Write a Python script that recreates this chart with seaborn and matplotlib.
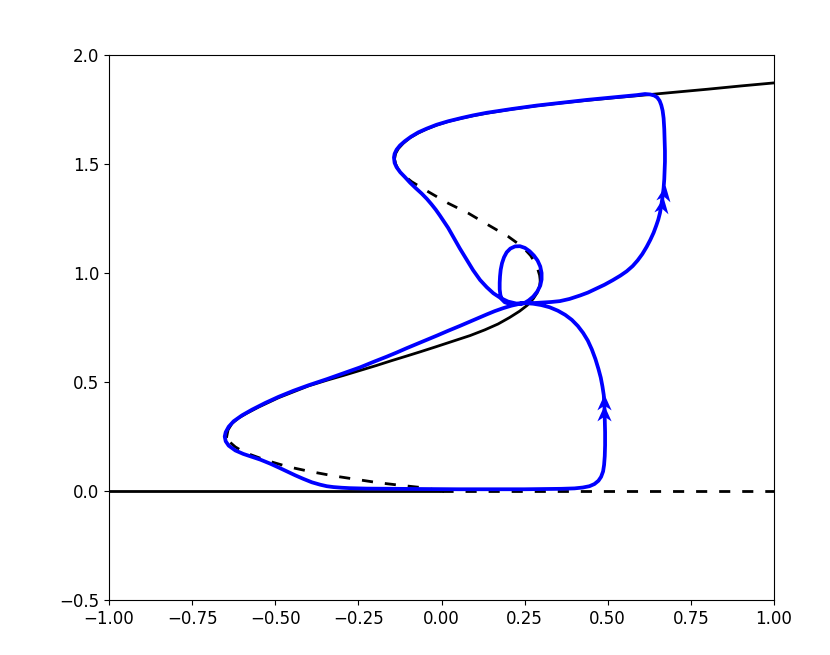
import matplotlib
matplotlib.use('Agg')
import matplotlib.pyplot as plt
import seaborn as sns
from matplotlib.markers import MarkerStyle

plt.rcParams['font.size'] = 12

# trivial branch x* = 0 (stable for r<0, unstable for r>0)
zero_r_stable = [-1.0, 0.0]
zero_x_stable = [0.0, 0.0]
zero_r_unstable = [0.0, 1.0]
zero_x_unstable = [0.0, 0.0]

# non-trivial branch
low_dash_r = [0.0, -0.055, -0.123, -0.19, -0.255, -0.323, -0.394, -0.461, -0.526, -0.591, -0.62, -0.638, -0.646]
low_dash_x = [0.0, 0.015, 0.026, 0.038, 0.053, 0.069, 0.089, 0.111, 0.14, 0.176, 0.202, 0.226, 0.25]

mid_r = [-0.646, -0.642, -0.63, -0.61, -0.585, -0.55, -0.49, -0.44, -0.4, -0.345, -0.295, -0.245,
         -0.195, -0.15, -0.105, -0.065, -0.02, 0.04, 0.086, 0.13, 0.17, 0.205, 0.235, 0.258,
         0.276, 0.288, 0.295, 0.297]
mid_x = [0.25, 0.28, 0.31, 0.335, 0.357, 0.385, 0.428, 0.458, 0.482, 0.508, 0.53, 0.553,
         0.576, 0.598, 0.619, 0.638, 0.66, 0.69, 0.713, 0.739, 0.766, 0.796, 0.825, 0.852,
         0.882, 0.91, 0.94, 0.965]

up_dash_r = [0.297, 0.295, 0.289, 0.28, 0.268, 0.25, 0.23, 0.201, 0.141, 0.081, 0.02, -0.04, -0.09,
             -0.115, -0.13, -0.138, -0.141]
up_dash_x = [0.965, 0.99, 1.02, 1.05, 1.08, 1.11, 1.135, 1.167, 1.22, 1.274, 1.32, 1.373, 1.419,
             1.45, 1.475, 1.5, 1.525]

top_r = [-0.141, -0.138, -0.13, -0.115, -0.095, -0.07, -0.045, -0.015, 0.02, 0.06, 0.1, 0.136,
         0.21, 0.286, 0.36, 0.437, 0.52, 0.587, 0.7, 0.8, 0.9, 1.0]
top_x = [1.525, 1.548, 1.57, 1.595, 1.62, 1.642, 1.66, 1.678, 1.695, 1.71, 1.723, 1.733,
         1.751, 1.767, 1.78, 1.792, 1.804, 1.813, 1.829, 1.843, 1.858, 1.872]

# trajectory: lower loop, small loop at the crossing, then the upper loop
traj_r = [0.25, 0.23, 0.21, 0.186, 0.16, 0.136, 0.11, 0.086, 0.055, 0.02, -0.012, -0.045, -0.075,
          -0.105, -0.135, -0.165, -0.205, -0.245, -0.295, -0.345, -0.4, -0.445, -0.49, -0.53,
          -0.57, -0.6, -0.625, -0.64, -0.649, -0.652, -0.649, -0.64, -0.62, -0.596, -0.57, -0.545,
          -0.516, -0.49, -0.465, -0.44, -0.416, -0.39, -0.365, -0.345, -0.325, -0.3, -0.275,
          -0.225, -0.15, -0.05, 0.05, 0.15, 0.25, 0.3, 0.36, 0.4, 0.425, 0.445, 0.46, 0.472,
          0.48, 0.486, 0.489, 0.491, 0.492, 0.492, 0.491, 0.49, 0.488, 0.484, 0.479, 0.472,
          0.463, 0.452, 0.44, 0.426, 0.41, 0.392, 0.372, 0.35, 0.325, 0.3, 0.276, 0.25,
          0.225, 0.205, 0.19, 0.181, 0.177, 0.175, 0.175, 0.176, 0.178, 0.182, 0.188, 0.196,
          0.207, 0.221, 0.236, 0.251, 0.265, 0.278, 0.289, 0.297, 0.301, 0.301, 0.297, 0.288,
          0.276, 0.262, 0.25,
          0.276, 0.3, 0.33, 0.356, 0.385, 0.417, 0.44, 0.465, 0.49, 0.515, 0.538, 0.557, 0.575,
          0.59, 0.604, 0.617, 0.628, 0.638, 0.646, 0.652, 0.657, 0.661, 0.665, 0.668, 0.67,
          0.671, 0.672, 0.672, 0.671, 0.67, 0.668, 0.665, 0.661, 0.656, 0.649, 0.64, 0.628,
          0.612, 0.587, 0.52, 0.437, 0.36, 0.286, 0.21, 0.136, 0.095, 0.06, 0.02, -0.015,
          -0.045, -0.07, -0.092, -0.11, -0.125, -0.135, -0.141, -0.143, -0.141, -0.135, -0.124,
          -0.11, -0.095, -0.078, -0.06, -0.044, -0.03, -0.017, -0.005, 0.007, 0.02, 0.035,
          0.055, 0.076, 0.095, 0.116, 0.136, 0.156, 0.178, 0.2, 0.225, 0.25]
traj_x = [0.862, 0.857, 0.85, 0.839, 0.825, 0.81, 0.793, 0.777, 0.757, 0.735, 0.714, 0.693, 0.674,
          0.655, 0.635, 0.616, 0.592, 0.567, 0.54, 0.513, 0.485, 0.46, 0.432, 0.404,
          0.373, 0.347, 0.32, 0.295, 0.27, 0.25, 0.228, 0.208, 0.186, 0.17, 0.157, 0.144,
          0.126, 0.108, 0.09, 0.072, 0.056, 0.04, 0.029, 0.022, 0.018, 0.015, 0.013,
          0.011, 0.01, 0.009, 0.008, 0.008, 0.008, 0.009, 0.01, 0.012, 0.016, 0.022, 0.032, 0.047,
          0.065, 0.09, 0.12, 0.16, 0.21, 0.27, 0.33, 0.39, 0.44, 0.48, 0.52, 0.56,
          0.605, 0.65, 0.69, 0.725, 0.757, 0.785, 0.808, 0.827, 0.843, 0.853, 0.859, 0.862,
          0.857, 0.858, 0.866, 0.88, 0.9, 0.925, 0.955, 0.985, 1.015, 1.045, 1.072, 1.095,
          1.112, 1.122, 1.123, 1.115, 1.1, 1.08, 1.057, 1.03, 1.0, 0.97, 0.942, 0.915,
          0.892, 0.874, 0.863,
          0.862, 0.864, 0.867, 0.871, 0.881, 0.897, 0.91, 0.928, 0.946, 0.967, 0.988, 1.008, 1.032,
          1.058, 1.087, 1.12, 1.152, 1.185, 1.218, 1.245, 1.275, 1.31, 1.35, 1.39, 1.43,
          1.47, 1.51, 1.56, 1.61, 1.66, 1.71, 1.745, 1.77, 1.79, 1.805, 1.814, 1.819,
          1.821, 1.816, 1.806, 1.794, 1.781, 1.768, 1.752, 1.735, 1.723, 1.711, 1.696, 1.68,
          1.662, 1.645, 1.625, 1.605, 1.585, 1.566, 1.547, 1.53, 1.505, 1.485, 1.462,
          1.44, 1.415, 1.39, 1.365, 1.34, 1.315, 1.29, 1.264, 1.237, 1.207, 1.167,
          1.113, 1.06, 1.013, 0.968, 0.935, 0.907, 0.885, 0.869, 0.86, 0.862]

# direction markers on the trajectory
arrow_up_r = [0.49, 0.49]
arrow_up_x = [0.357, 0.41]
arrow_right_r = [0.662, 0.668]
arrow_right_x = [1.312, 1.369]

xticks = [-1.0, -0.75, -0.5, -0.25, 0.0, 0.25, 0.5, 0.75, 1.0]
yticks = [-0.5, 0.0, 0.5, 1.0, 1.5, 2.0]

fig = plt.figure(figsize=(8.3, 6.55), dpi=100)
ax = fig.add_axes([109 / 830, 55 / 655, 665 / 830, 545 / 655])

dash = (0, (4, 4.3))
sns.lineplot(x=zero_r_stable, y=zero_x_stable, sort=False, estimator=None, color='k', lw=2, ax=ax)
sns.lineplot(x=zero_r_unstable, y=zero_x_unstable, sort=False, estimator=None, color='k', lw=2,
             linestyle=dash, ax=ax)
sns.lineplot(x=low_dash_r, y=low_dash_x, sort=False, estimator=None, color='k', lw=2, linestyle=dash, ax=ax)
sns.lineplot(x=mid_r, y=mid_x, sort=False, estimator=None, color='k', lw=2, ax=ax)
sns.lineplot(x=up_dash_r, y=up_dash_x, sort=False, estimator=None, color='k', lw=2, linestyle=dash, ax=ax)
sns.lineplot(x=top_r, y=top_x, sort=False, estimator=None, color='k', lw=2, ax=ax)

sns.lineplot(x=traj_r, y=traj_x, sort=False, estimator=None, color='blue', lw=2.7,
             solid_joinstyle='round', solid_capstyle='round', ax=ax)

head = [(0, 1), (-0.9, -1), (0, -0.4), (0.9, -1), (0, 1)]
ax.scatter(arrow_up_r, arrow_up_x, marker=MarkerStyle(head), s=130, color='blue', linewidths=0, zorder=5)
ax.scatter(arrow_right_r, arrow_right_x, marker=MarkerStyle(head).rotated(deg=-8), s=130,
           color='blue', linewidths=0, zorder=5)

ax.set_xlim(-1, 1)
ax.set_ylim(-0.5, 2)
ax.set_xticks(xticks)
ax.set_yticks(yticks)
ax.set_xlabel('')
ax.set_ylabel('')

fig.savefig('out.png', dpi=100)
